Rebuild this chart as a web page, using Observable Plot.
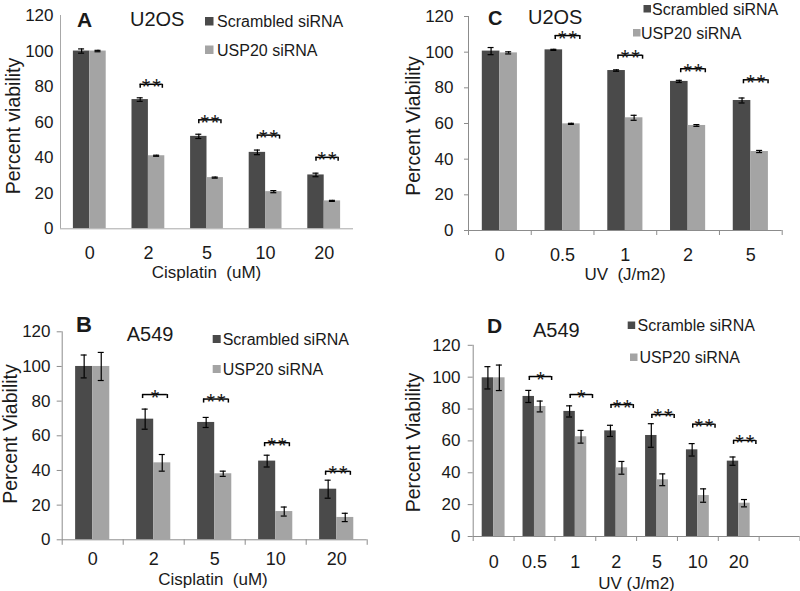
<!DOCTYPE html>
<html>
<head>
<meta charset="utf-8">
<script src="https://cdn.jsdelivr.net/npm/d3@7"></script>
<script src="https://cdn.jsdelivr.net/npm/@observablehq/plot@0.6"></script>
<style>
  body { margin: 0; background: #fff; }
  #fig { position: relative; width: 800px; height: 591px; overflow: hidden; background: #fff;
         font-family: "Liberation Sans", Arial, sans-serif; }
  #fig .panel { position: absolute; }
  #overlay { position: absolute; left: 0; top: 0; pointer-events: none; }
  #overlay text { white-space: pre; }
</style>
</head>
<body>
<div id="fig"></div>
<script>
// ---------- DATA ----------
const seriesNames = ["Scrambled siRNA", "USP20 siRNA"];
const yTicks = [0, 20, 40, 60, 80, 100, 120];

// Panel A: U2OS, cisplatin
const catsA   = ["0", "2", "5", "10", "20"];
const scrA    = [100, 72.7, 52, 43, 30.3];
const scrErrA = [1.2, 1, 1.2, 1.3, 1];
const uspA    = [100, 41.1, 28.8, 20.9, 15.7];
const uspErrA = [0.4, 0.3, 0.3, 0.6, 0.3];
const sigA    = ["", "**", "**", "**", "**"];
const brkA    = [null, 81.3, 61.3, 52.7, 40.2];

// Panel B: A549, cisplatin
const catsB   = ["0", "2", "5", "10", "20"];
const scrB    = [100, 69.6, 67.7, 45.4, 29.2];
const scrErrB = [6.6, 5.8, 2.9, 3.4, 5.2];
const uspB    = [100, 44.4, 38.1, 16.3, 12.9];
const uspErrB = [8.1, 4.8, 1.5, 2.6, 2.4];
const sigB    = ["", "*", "**", "**", "**"];
const brkB    = [null, 83.8, 81.2, 56, 39.5];

// Panel C: U2OS, UV
const catsC   = ["0", "0.5", "1", "2", "5"];
const scrC    = [100.6, 101.3, 89.7, 83.6, 72.9];
const scrErrC = [2, 0.3, 0.4, 0.6, 1.4];
const uspC    = [99.6, 59.8, 63.2, 58.9, 44.3];
const uspErrC = [0.6, 0.3, 1.4, 0.5, 0.6];
const sigC    = ["", "**", "**", "**", "**"];
const brkC    = [null, 109.3, 98.3, 90.7, 84.5];

// Panel D: A549, UV (last category slot is empty)
const catsD   = ["0", "0.5", "1", "2", "5", "10", "20", ""];
const scrD    = [99.6, 87.9, 78.5, 66.3, 63.4, 54.4, 47.3];
const scrErrD = [7, 3.8, 3.5, 3.5, 7.4, 3.9, 2.6];
const uspD    = [99.6, 81.6, 62.6, 43.1, 35.6, 25.7, 20.9];
const uspErrD = [8, 3.4, 4, 4, 3.7, 4.2, 2.3];
const sigD    = ["", "*", "*", "**", "**", "**", "**"];
const brkD    = [null, 100.4, 89.1, 82.8, 76.6, 70.5, 60.3];

// ---------- STYLE ----------
const DARK = "#4a4a4a", LIGHT = "#a4a4a4", INK = "#1a1a1a";
const FONT = "Liberation Sans, Arial, sans-serif";

function panel(cats, scr, scrErr, usp, uspErr, sig, brk, L) {
  const n = cats.length;
  const band = (L.width - L.ml - L.mr) / n;              // px per category
  const unitY = (L.height - L.mt - L.mb) / 120;          // px per percent
  const bw = 0.28;                                       // bar width, in categories
  const rows = [];
  scr.forEach((v, i) => {
    rows.push({i, s: 0, v, e: scrErr[i]});
    rows.push({i, s: 1, v: usp[i], e: uspErr[i]});
  });
  rows.forEach(r => { r.x1 = r.i + 0.5 - (r.s ? 0 : bw); r.x2 = r.x1 + bw; r.cx = (r.x1 + r.x2) / 2; });
  const cap = 3 / band;
  const drop = 4 / unitY;
  const brackets = brk.map((b, i) => b == null ? null :
      {y: b, x1: i + 0.5 + L.bl * bw, x2: i + 0.5 + L.br * bw, t: sig[i].split("").join("\u200A")})
    .filter(Boolean);
  const marks = [
    Plot.rect(rows.filter(r => r.s === 0), {x1: "x1", x2: "x2", y1: 0, y2: "v", fill: DARK}),
    Plot.rect(rows.filter(r => r.s === 1), {x1: "x1", x2: "x2", y1: 0, y2: "v", fill: LIGHT}),
    Plot.ruleX(rows, {x: "cx", y1: r => r.v - r.e, y2: r => r.v + r.e, stroke: "#000", strokeWidth: 1.2}),
    Plot.ruleY(rows, {x1: r => r.cx - cap, x2: r => r.cx + cap, y: r => r.v + r.e, stroke: "#000", strokeWidth: 1.2}),
    Plot.ruleY(rows, {x1: r => r.cx - cap, x2: r => r.cx + cap, y: r => r.v - r.e, stroke: "#000", strokeWidth: 1.2}),
    Plot.ruleY(brackets, {x1: "x1", x2: "x2", y: "y", stroke: "#000", strokeWidth: 1.5}),
    Plot.ruleX(brackets, {x: "x1", y1: d => d.y - drop, y2: "y", stroke: "#000", strokeWidth: 1.5}),
    Plot.ruleX(brackets, {x: "x2", y1: d => d.y - drop, y2: "y", stroke: "#000", strokeWidth: 1.5}),
    Plot.text(brackets, {x: d => (d.x1 + d.x2) / 2, y: "y", text: "t", fontSize: 22, dy: 3, fill: INK}),
    Plot.ruleX([0], {stroke: L.axis}),
    Plot.ruleY([0], {stroke: L.axis}),
    Plot.axisY({ticks: yTicks, tickSize: L.yTick, tickPadding: L.yPad, fontSize: 17,
                stroke: L.axis, fill: INK, label: null}),
    Plot.axisX({ticks: cats.map((c, i) => i + 0.5), tickFormat: t => cats[Math.floor(t)],
                tickSize: 0, tickPadding: L.xPad, fontSize: 18, fill: INK, label: null})
  ];
  if (L.xTick) marks.push(Plot.axisX({ticks: d3.range(n + 1), tickFormat: () => "", tickSize: L.xTick,
                                      stroke: L.axis, label: null}));
  const svg = Plot.plot({
    width: L.width, height: L.height,
    marginLeft: L.ml, marginRight: L.mr, marginTop: L.mt, marginBottom: L.mb,
    x: {domain: [0, n]},
    y: {domain: [0, 120]},
    style: {fontFamily: FONT, background: "transparent", overflow: "visible", color: INK},
    marks
  });
  const wrap = document.createElement("div");
  wrap.className = "panel";
  wrap.style.left = L.left + "px";
  wrap.style.top = L.top + "px";
  wrap.appendChild(svg);
  document.getElementById("fig").appendChild(wrap);
}

panel(catsA, scrA, scrErrA, uspA, uspErrA, sigA, brkA,
  {left: 0, top: 0, width: 400, height: 290, ml: 60, mr: 47, mt: 15, mb: 61.7,
   yTick: 0, xTick: 0, yPad: 7, xPad: 17.7, bl: -0.5, br: 0.85, axis: "#a8a8a8"});
panel(catsB, scrB, scrErrB, uspB, uspErrB, sigB, brkB,
  {left: 0, top: 290, width: 400, height: 301, ml: 61.7, mr: 33.3, mt: 41.3, mb: 51.7,
   yTick: 5, xTick: 5.5, yPad: 6.7, xPad: 12.5, bl: -0.65, br: 0.8, axis: "#8c8c8c"});
panel(catsC, scrC, scrErrC, uspC, uspErrC, sigC, brkC,
  {left: 400, top: 0, width: 400, height: 290, ml: 68, mr: 18.3, mt: 16, mb: 60,
   yTick: 4, xTick: 5, yPad: 11, xPad: 17.5, bl: -0.42, br: 0.98, axis: "#8c8c8c"});
panel(catsD, scrD, scrErrD, uspD, uspErrD, sigD, brkD,
  {left: 400, top: 290, width: 400, height: 301, ml: 72.7, mr: 0.5, mt: 54.8, mb: 55,
   yTick: 5, xTick: 5, yPad: 7.7, xPad: 19.2, bl: -0.45, br: 1.5, axis: "#8c8c8c"});

// ---------- ANNOTATIONS (panel letters, cell lines, legends, axis titles) ----------
const ov = d3.select("#fig").append("svg").attr("id", "overlay")
  .attr("width", 800).attr("height", 591)
  .style("font-family", FONT).style("fill", INK);

function txt(s, x, y, size, opts = {}) {
  const t = ov.append("text").attr("x", x).attr("y", y).attr("dominant-baseline", "central")
    .attr("font-size", size).attr("text-anchor", opts.anchor || "start").text(s);
  if (opts.bold) t.attr("font-weight", "bold");
  if (opts.rotate) t.attr("transform", `rotate(-90 ${x} ${y})`);
  return t;
}
function sq(x, y, s, c) { ov.append("rect").attr("x", x).attr("y", y).attr("width", s).attr("height", s).attr("fill", c); }

// Panel A
txt("A", 77, 19.5, 21, {bold: true});
txt("U2OS", 130, 18.5, 20);
sq(205, 17, 8.5, DARK);  txt(seriesNames[0], 217, 21, 16);
sq(205, 45.5, 8.5, LIGHT); txt(seriesNames[1], 217, 50, 16);
txt("Percent viability", 13, 126, 19.5, {anchor: "middle", rotate: true});
txt("Cisplatin  (uM)", 206.5, 272, 17, {anchor: "middle"});

// Panel C
txt("C", 488, 17.5, 20, {bold: true});
txt("U2OS", 528, 17, 20);
sq(643.5, 5, 7.5, DARK);  txt(seriesNames[0], 652, 9, 16);
sq(633, 29, 7.5, LIGHT);  txt(seriesNames[1], 641, 33, 16);
txt("Percent Viability", 413, 126, 19.5, {anchor: "middle", rotate: true});
txt("UV  (J/m2)", 625, 274, 17, {anchor: "middle"});

// Panel B
txt("B", 76, 324, 22, {bold: true});
txt("A549", 126.7, 333.5, 20);
sq(212.7, 335, 8, DARK);  txt(seriesNames[0], 222.7, 339.5, 16);
sq(212.7, 365, 8, LIGHT); txt(seriesNames[1], 222.7, 369.5, 16);
txt("Percent Viability", 10, 434, 19.5, {anchor: "middle", rotate: true});
txt("Cisplatin  (uM)", 213, 579, 17, {anchor: "middle"});

// Panel D
txt("D", 487, 325.5, 21, {bold: true});
txt("A549", 533, 330, 20);
sq(627.7, 321.5, 7.5, DARK);  txt("Scramble siRNA", 637.5, 325.5, 16);
sq(630, 353.5, 7.5, LIGHT);   txt(seriesNames[1], 639.5, 357.5, 16);
txt("Percent Viability", 413, 442.5, 19.5, {anchor: "middle", rotate: true});
txt("UV (J/m2)", 636.5, 583, 17, {anchor: "middle"});
</script>
</body>
</html>
